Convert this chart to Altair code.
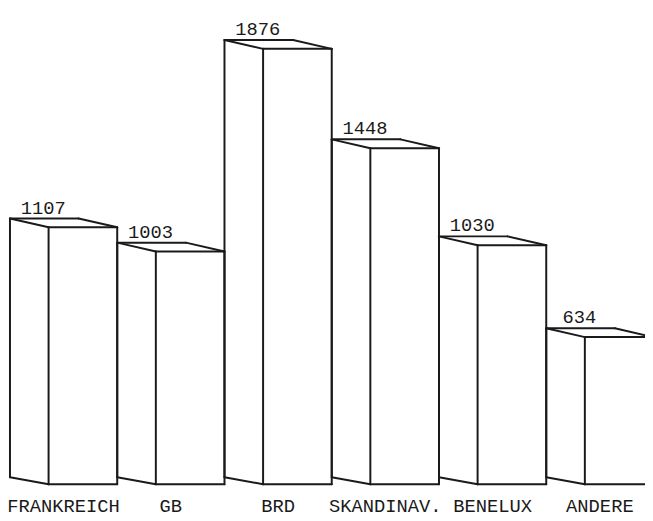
import altair as alt
import pandas as pd

# ---- data ----
categories = ["FRANKREICH", "GB", "BRD", "SKANDINAV.", "BENELUX", "ANDERE"]
values = [1107, 1003, 1876, 1448, 1030, 634]

# ---- drawing style (pseudo-3D box geometry, in slot / value units) ----
SIDE = 0.36        # width of the visible side face, in slot units
TOP_DEPTH = 38     # vertical shift of the back top edge, in value units
BOT_DEPTH = 30     # vertical shift of the back bottom edge, in value units

segs = []
for i, (cat, v) in enumerate(zip(categories, values)):
    x0, xm, x1 = i, i + SIDE, i + 1
    vt = v + TOP_DEPTH
    edges = [
        (x0, BOT_DEPTH, x0, vt),      # back-left vertical
        (x0, vt, xm, v),              # top-left diagonal
        (x0, BOT_DEPTH, xm, 0),       # bottom side diagonal
        (xm, 0, xm, v),               # front-left vertical
        (xm, v, x1, v),               # front top edge
        (x1, 0, x1, v),               # front-right vertical
        (xm, 0, x1, 0),               # front bottom edge
        (x0, vt, x1 - SIDE, vt),      # back top edge
        (x1 - SIDE, vt, x1, v),       # top-right diagonal
    ]
    for (a, b, c, d) in edges:
        segs.append({"cat": cat, "x": a, "y": b, "x2": c, "y2": d})
seg_df = pd.DataFrame(segs)

lab_df = pd.DataFrame({
    "cat": categories,
    "value": values,
    "slot": list(range(len(categories))),
})

xscale = alt.Scale(domain=[-0.0184, 5.9208], nice=False, zero=False)
yscale = alt.Scale(domain=[-144.7, 2038.3], nice=False, zero=False)

INK = "#1a1a1a"
FONT = "Liberation Mono"

edges = alt.Chart(seg_df).mark_rule(color=INK, strokeWidth=2, strokeCap="round").encode(
    x=alt.X("x:Q", scale=xscale, axis=None),
    y=alt.Y("y:Q", scale=yscale, axis=None),
    x2="x2:Q",
    y2="y2:Q",
)

val_text = alt.Chart(lab_df).transform_calculate(
    tx="datum.slot + 0.31",
    ty=f"datum.value + {TOP_DEPTH}",
).mark_text(
    font=FONT, fontSize=19, color=INK, align="center", baseline="alphabetic", dy=-5
).encode(
    x=alt.X("tx:Q", scale=xscale, axis=None),
    y=alt.Y("ty:Q", scale=yscale, axis=None),
    text=alt.Text("value:Q", format="d"),
)

cat_text = alt.Chart(lab_df).transform_calculate(
    tx="datum.slot + 0.50",
).mark_text(
    font=FONT, fontSize=19, color=INK, align="center", baseline="alphabetic"
).encode(
    x=alt.X("tx:Q", scale=xscale, axis=None),
    y=alt.value(507),
    text="cat:N",
)

chart = alt.layer(edges, val_text, cat_text).properties(
    width=645, height=513, padding=0, autosize=alt.AutoSizeParams(type="none"),
    background="white",
).configure_view(stroke=None)

chart.save("out.html", embed_options={"renderer": "svg", "actions": False})
